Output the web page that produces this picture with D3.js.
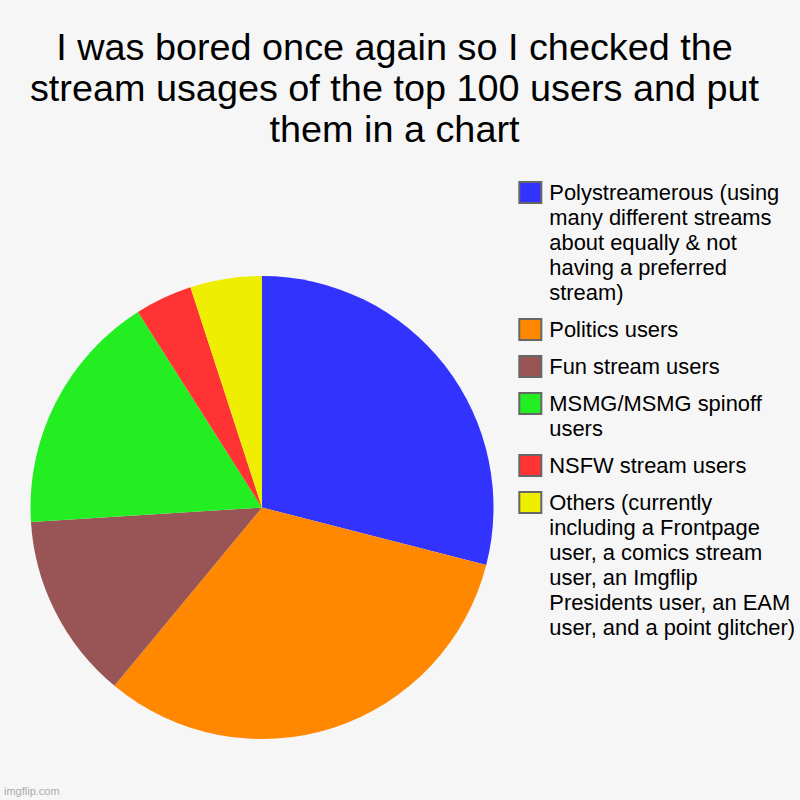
<!DOCTYPE html>
<html>
<head>
<meta charset="utf-8">
<script src="https://cdn.jsdelivr.net/npm/d3@7"></script>
<style>
html,body{margin:0;padding:0;background:#f6f6f6;}
svg{display:block;}
</style>
</head>
<body>
<svg id="chart" width="800" height="800"></svg>
<script>
const titleLines = [
  "I was bored once again so I checked the",
  "stream usages of the top 100 users and put",
  "them in a chart"
];
const categories = [
  "Polystreamerous (using\nmany different streams\nabout equally & not\nhaving a preferred\nstream)",
  "Politics users",
  "Fun stream users",
  "MSMG/MSMG spinoff\nusers",
  "NSFW stream users",
  "Others (currently\nincluding a Frontpage\nuser, a comics stream\nuser, an Imgflip\nPresidents user, an EAM\nuser, and a point glitcher)"
];
const values = [29, 32, 13, 17, 4, 5];
const colors = ["#3333ff", "#ff8800", "#995555", "#22ee22", "#ff3333", "#eeee00"];
const watermark = "imgflip.com";

(function () {
const svg = d3.select("#chart");
svg.append("rect").attr("width", 800).attr("height", 800).attr("fill", "#f6f6f6");

const FONT = "'Liberation Sans', Arial, Helvetica, sans-serif";

// Title
const titleSize = 37.8;
const title = svg.append("text")
  .attr("font-family", FONT)
  .attr("font-size", titleSize)
  .attr("fill", "#000")
  .attr("text-anchor", "middle");
titleLines.forEach((l, i) => {
  title.append("tspan").attr("x", 394.5).attr("y", 60 + i * 41).text(l);
});

// Pie
const cx = 262, cy = 507.5, r = 231.5;
const pie = d3.pie().sort(null).value(d => d)(values);
const arc = d3.arc().innerRadius(0).outerRadius(r);
const g = svg.append("g").attr("transform", `translate(${cx},${cy})`);
g.selectAll("path").data(pie).join("path")
  .attr("d", arc)
  .attr("fill", (d, i) => colors[i]);

// Legend
const legSize = 21.9;
const legend = svg.append("g");
let yPos = 181;
categories.forEach((c, i) => {
  const lines = c.split("\n");
  legend.append("rect")
    .attr("x", 519.3).attr("y", yPos + 1)
    .attr("width", 22).attr("height", 21)
    .attr("fill", colors[i])
    .attr("stroke", "#666").attr("stroke-width", 2);
  const t = legend.append("text")
    .attr("font-family", FONT)
    .attr("font-size", legSize)
    .attr("fill", "#000");
  lines.forEach((l, j) => {
    t.append("tspan").attr("x", 549.3).attr("y", yPos + 19 + j * 25).text(l);
  });
  yPos += lines.length * 25 + 12;
});

// Watermark
svg.append("text")
  .attr("x", 4).attr("y", 795)
  .attr("font-family", FONT)
  .attr("font-size", 11)
  .attr("fill", "#aaaaaa")
  .text(watermark);
})();
</script>
</body>
</html>
